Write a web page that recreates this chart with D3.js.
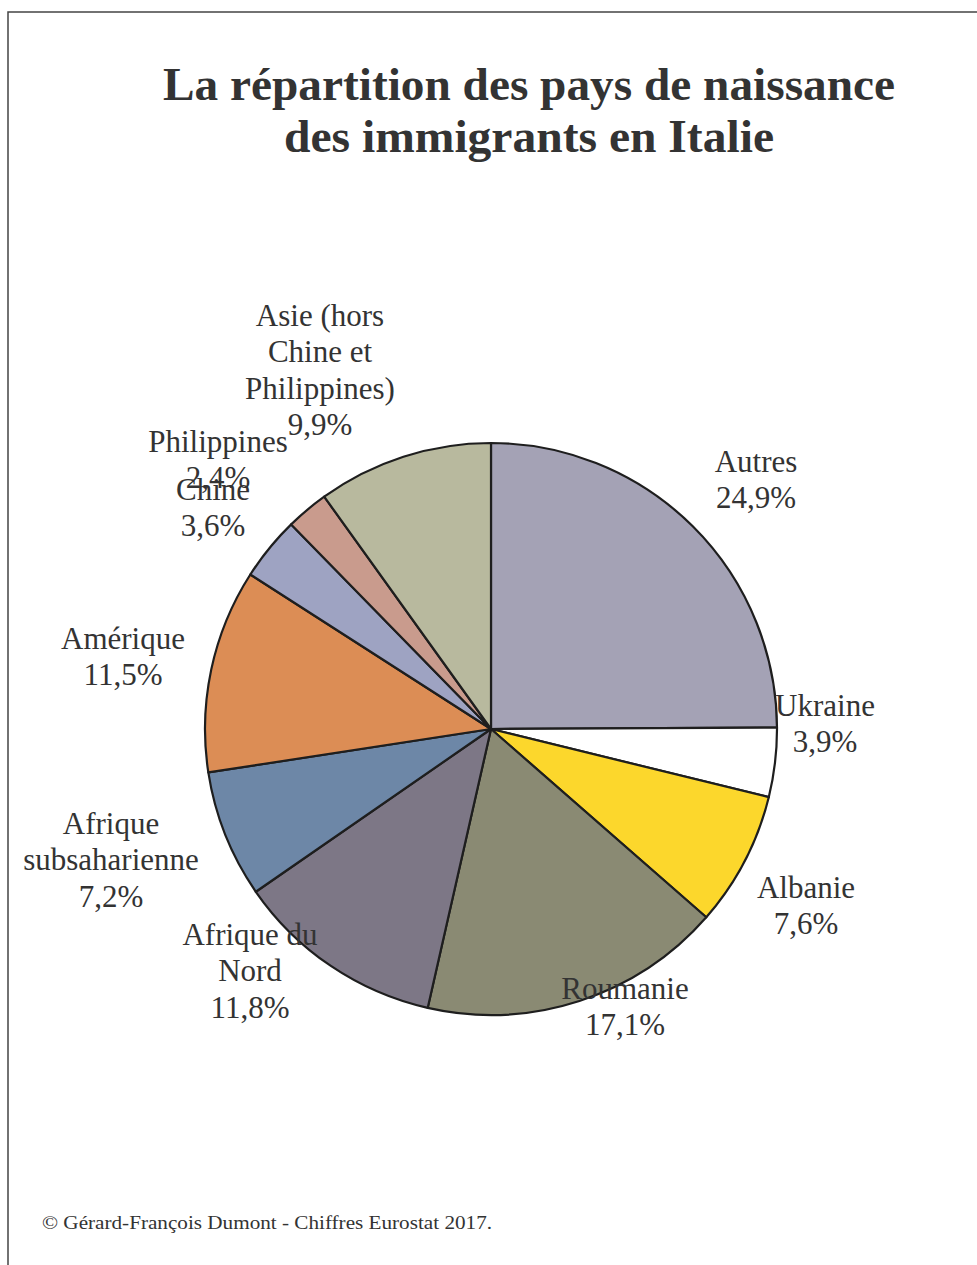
<!DOCTYPE html>
<html>
<head>
<meta charset="utf-8">
<script src="https://cdn.jsdelivr.net/npm/d3@7/dist/d3.min.js"></script>
<style>
  body { margin: 0; background: #fff; }
  svg { display: block; }
  text { font-family: "Liberation Serif", "Times New Roman", serif; fill: #333; }
</style>
</head>
<body>
<div id="chart"></div>
<script>
// data (percent of immigrants by country of birth)
const categories = ["Autres", "Ukraine", "Albanie", "Roumanie", "Afrique du Nord",
                    "Afrique subsaharienne", "Amérique", "Chine", "Philippines",
                    "Asie (hors Chine et Philippines)"];
const values = [24.9, 3.9, 7.6, 17.1, 11.8, 7.2, 11.5, 3.6, 2.4, 9.9];
const labelLines = [
    ["Autres"], ["Ukraine"], ["Albanie"], ["Roumanie"], ["Afrique du", "Nord"],
    ["Afrique", "subsaharienne"], ["Amérique"], ["Chine"], ["Philippines"],
    ["Asie (hors", "Chine et", "Philippines)"]
];
const colors = ["#a4a2b5", "#ffffff", "#fcd72c", "#8a8a73", "#7d7786",
                "#6d87a7", "#dc8d55", "#9ea3c2", "#c99b8d", "#b8b99e"];
// where the labels sit (centre x, first line y)
const labelPos = [[756, 462], [825, 706], [806, 888], [625, 989], [250, 935],
                  [111, 824], [123, 639], [213, 490], [218, 442], [320, 316]];

const W = 977, H = 1265;
const cx = 491, cy = 729, radius = 286;

const svg = d3.select("#chart").append("svg")
    .attr("width", W)
    .attr("height", H);

// page frame (top and left edges of the scan)
svg.append("path")
    .attr("d", "M8," + H + " V12 H" + W)
    .attr("fill", "none")
    .attr("stroke", "#444")
    .attr("stroke-width", 1.5);

// title
let title = ["La répartition des pays de naissance", "des immigrants en Italie"];
let titleWidths = [732, 490];
svg.selectAll(".title")
    .data(title)
    .enter().append("text")
    .attr("class", "title")
    .attr("x", 529)
    .attr("y", (d, i) => 100 + i * 52)
    .attr("text-anchor", "middle")
    .attr("font-size", 46)
    .attr("font-weight", "bold")
    .attr("textLength", (d, i) => titleWidths[i])
    .attr("lengthAdjust", "spacingAndGlyphs")
    .text(d => d);

// pie
let pie = d3.pie().sort(null).value(d => d);
let arc = d3.arc().innerRadius(0).outerRadius(radius);
let slices = pie(values);

let g = svg.append("g")
    .attr("transform", "translate(" + cx + "," + cy + ")");

g.selectAll("path")
    .data(slices)
    .enter().append("path")
    .attr("d", arc)
    .attr("fill", (d, i) => colors[i])
    .attr("stroke", "#1e1e1e")
    .attr("stroke-width", 2.2)
    .attr("stroke-linejoin", "round");

// labels
let lineH = 36.3;
let labels = svg.selectAll(".lbl")
    .data(slices)
    .enter().append("text")
    .attr("class", "lbl")
    .attr("text-anchor", "middle")
    .attr("font-size", 31);

labels.each(function (d, i) {
    let t = d3.select(this);
    let lines = labelLines[i].concat([d3.format(".1f")(d.data).replace(".", ",") + "%"]);
    lines.forEach((s, k) => {
        t.append("tspan")
            .attr("x", labelPos[i][0])
            .attr("y", labelPos[i][1] + k * lineH + 10)
            .text(s);
    });
});

// source
svg.append("text")
    .attr("x", 42)
    .attr("y", 1229)
    .attr("font-size", 19)
    .attr("textLength", 450)
    .attr("lengthAdjust", "spacingAndGlyphs")
    .text("© Gérard-François Dumont - Chiffres Eurostat 2017.");
</script>
</body>
</html>
